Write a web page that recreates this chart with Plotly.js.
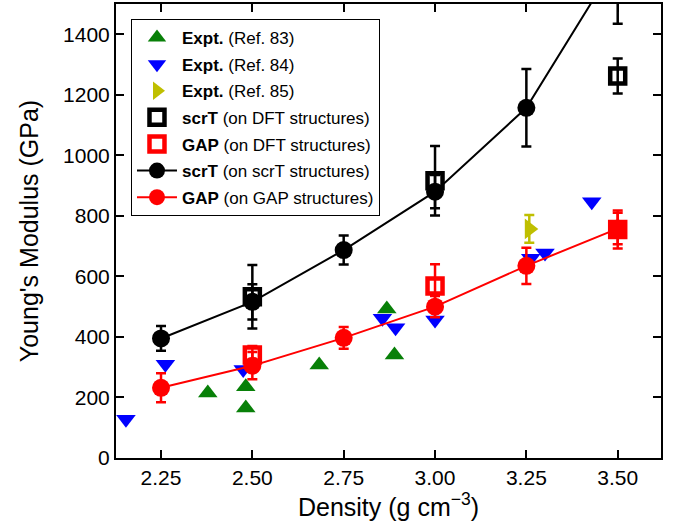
<!DOCTYPE html>
<html>
<head>
<meta charset="utf-8">
<script src="https://cdn.plot.ly/plotly-3.0.1.min.js"></script>
<style>html,body{margin:0;padding:0;background:#fff;}#chart{width:678px;height:528px;}</style>
</head>
<body>
<div id="chart"></div>
<script>
// Experimental data
const ref83Density = [2.378, 2.482, 2.482, 2.683, 2.868, 2.889];
const ref83Modulus = [215, 235, 165, 307, 492, 340];
const ref84Density = [2.154, 2.262, 2.475, 2.856, 2.892, 3.000, 3.262, 3.301, 3.429];
const ref84Modulus = [128, 310, 292, 462, 430, 456, 660, 677, 847];
const ref85Density = [3.258];
const ref85Modulus = [757];
const ref85Err = [46];

// Computed on DFT structures
const dftDensity = [2.5, 3.0, 3.5];
const scrTonDFT = [533, 916, 1262];
const scrTonDFTErr = [105, 115, 58];
const gapOnDFT = [340, 568, 755];
const gapOnDFTErr = [30, 72, 63];

// Computed on own structures
const ownDensity = [2.25, 2.5, 2.75, 3.0, 3.25, 3.5];
const scrTonScrT = [395, 516, 687, 880, 1157, 1645];
const scrTonScrTErr = [41, 58, 48, 55, 128, 210];
const gapOnGap = [232, 305, 397, 500, 635, 758];
const gapOnGapErr = [48, 45, 36, 35, 60, 52];

const xTicks = [2.25, 2.5, 2.75, 3.0, 3.25, 3.5];
const xTickText = ['2.25', '2.50', '2.75', '3.00', '3.25', '3.50'];
const yTicks = [0, 200, 400, 600, 800, 1000, 1200, 1400];

const FONT = 'Liberation Sans, Arial, Helvetica, sans-serif';
const GREEN = '#088008', BLUE = '#0000ff', YELLOW = '#bfbf00', RED = '#ff0000', BLACK = '#000000';

function err(arr, color) {
  return {type: 'data', array: arr, visible: true, color: color, thickness: 2.5, width: 5};
}

const traces = [
  {x: ref84Density, y: ref84Modulus, mode: 'markers', type: 'scatter', name: '<b>Expt.</b> (Ref. 84)', legendrank: 2, legendgroup: 'g2',
   marker: {symbol: 'triangle-down', size: 17, color: BLUE}},
  {x: ref83Density, y: ref83Modulus, mode: 'markers', type: 'scatter', name: '<b>Expt.</b> (Ref. 83)', legendrank: 1, legendgroup: 'g1',
   marker: {symbol: 'triangle-up', size: 17, color: GREEN}},
  {x: ref85Density, y: ref85Modulus, mode: 'markers', type: 'scatter', name: '<b>Expt.</b> (Ref. 85)', legendrank: 3, legendgroup: 'g3',
   error_y: err(ref85Err, YELLOW),
   marker: {symbol: 'triangle-right', size: 18, color: YELLOW}},
  {x: ownDensity, y: scrTonScrT, mode: 'lines+markers', type: 'scatter', name: '<b>scrT</b> (on scrT structures)', legendrank: 6, legendgroup: 'g6',
   error_y: err(scrTonScrTErr, BLACK),
   line: {color: BLACK, width: 2}, marker: {symbol: 'circle', size: 18, color: BLACK}},
  {x: ownDensity, y: gapOnGap, mode: 'lines+markers', type: 'scatter', name: '<b>GAP</b> (on GAP structures)', legendrank: 7, legendgroup: 'g7',
   error_y: err(gapOnGapErr, RED),
   line: {color: RED, width: 2}, marker: {symbol: 'circle', size: 18, color: RED}},
  {x: dftDensity, y: scrTonDFT, mode: 'markers', type: 'scatter', name: '<b>scrT</b> (on DFT structures)', legendrank: 4, legendgroup: 'g4',
   error_y: err(scrTonDFTErr, BLACK),
   marker: {symbol: 'square-open', size: 15, color: BLACK, line: {width: 4.5, color: BLACK}}},
  {x: dftDensity, y: gapOnDFT, mode: 'markers', type: 'scatter', name: '<b>GAP</b> (on DFT structures)', legendrank: 5, legendgroup: 'g5',
   error_y: err(gapOnDFTErr, RED),
   marker: {symbol: 'square-open', size: 15, color: RED, line: {width: 4.5, color: RED}}}
];

const axisCommon = {
  showgrid: false, zeroline: false, showline: true, linecolor: BLACK, linewidth: 2,
  mirror: 'ticks', ticks: 'inside', ticklen: 8, tickwidth: 2, tickcolor: BLACK,
  tickfont: {family: FONT, size: 21, color: BLACK}
};

const layout = {
  width: 678, height: 528,
  margin: {l: 116, r: 17, t: 4, b: 70},
  paper_bgcolor: '#ffffff', plot_bgcolor: '#ffffff',
  font: {family: FONT, color: BLACK},
  showlegend: true,
  legend: {x: 0.0275, y: 0.967, xanchor: 'left', yanchor: 'top',
    bgcolor: '#ffffff', bordercolor: BLACK, borderwidth: 1,
    font: {family: FONT, size: 17, color: BLACK}, itemwidth: 40, tracegroupgap: 1.5},
  xaxis: Object.assign({}, axisCommon, {
    range: [2.1268, 3.6185], tickvals: xTicks, ticktext: xTickText,
    title: {text: 'Density (g cm<sup>−3</sup>)', font: {family: FONT, size: 25, color: BLACK}, standoff: 10}
  }),
  yaxis: Object.assign({}, axisCommon, {
    range: [0, 1500], tickvals: yTicks,
    title: {text: "Young's Modulus (GPa)", font: {family: FONT, size: 25, color: BLACK}, standoff: 17}
  })
};

Plotly.newPlot('chart', traces, layout, {displayModeBar: false, staticPlot: true});
</script>
</body>
</html>
